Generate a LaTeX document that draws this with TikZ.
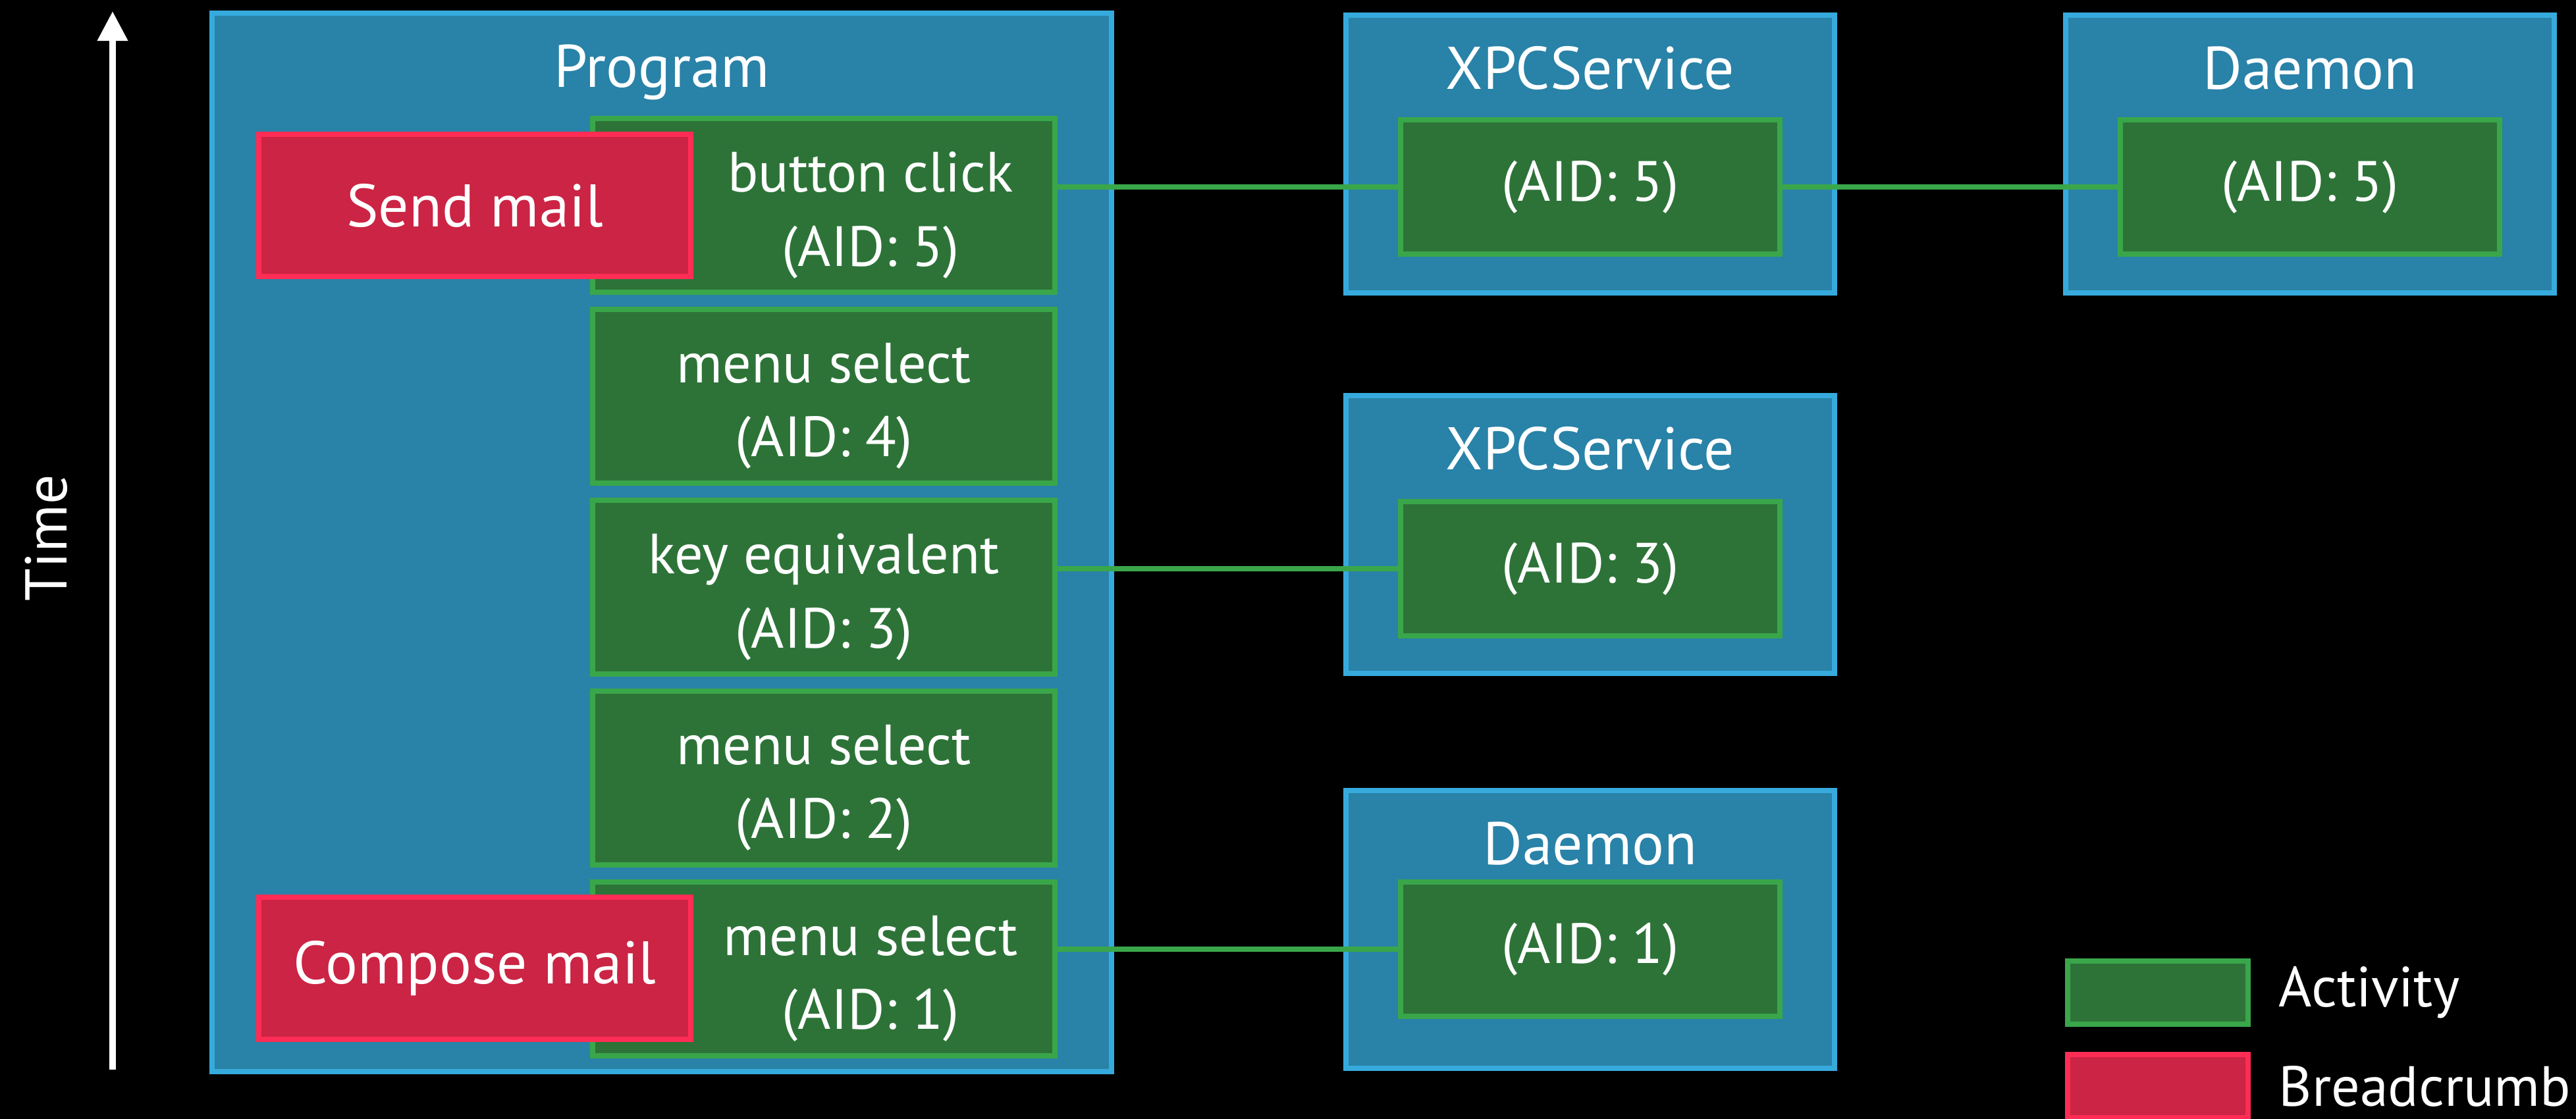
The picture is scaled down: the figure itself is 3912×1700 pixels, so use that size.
\documentclass[tikz,border=0pt]{standalone}
\usepackage{fontspec}
\setmainfont{PT Sans}
\usetikzlibrary{positioning, arrows.meta}

\definecolor{procfill}{HTML}{2982A7}
\definecolor{procline}{HTML}{36AADD}
\definecolor{actfill}{HTML}{2D7338}
\definecolor{actline}{HTML}{3AA64A}
\definecolor{crumbfill}{HTML}{CB2444}
\definecolor{crumbline}{HTML}{FF2D55}

\begin{document}
\begin{tikzpicture}[x=0.01cm, y=-0.01cm, >=Stealth,
    procbox/.style={draw=procline, fill=procfill, line width=0.08cm, inner sep=0pt,
        minimum width=7.42cm, minimum height=4.22cm},
    actbox/.style={draw=actline, fill=actfill, line width=0.08cm, text=white, align=center,
        minimum width=7.02cm, minimum height=2.64cm, font=\fontsize{24.5}{32}\selectfont},
    acttext/.style={text=white, align=center, yshift=-0.15cm, font=\fontsize{24.5}{32}\selectfont},
    remotebox/.style={actbox, minimum width=5.75cm, minimum height=2.04cm},
    crumbbox/.style={draw=crumbline, fill=crumbfill, line width=0.08cm, text=white,
        minimum width=6.55cm, minimum height=2.16cm, font=\fontsize{26}{32}\selectfont},
    titletxt/.style={text=white, inner sep=0pt, anchor=base, font=\fontsize{26}{32}\selectfont},
    lbl/.style={text=white, inner sep=0pt, font=\fontsize{24.5}{32}\selectfont},
    link/.style={draw=actline, line width=0.08cm}]

    % canvas
    \useasboundingbox (0,0) rectangle (3912,1700);
    \fill[black] (0,0) rectangle (3912,1700);

    % time axis
    \coordinate (tbot) at (171,1625);
    \coordinate (ttop) at (171,17);
    \draw[white, line width=0.1cm, -{Triangle[width=0.44cm,length=0.45cm]}] (tbot) -- (ttop);
    \node[lbl, rotate=90, font=\fontsize{25.5}{32}\selectfont] (timelbl) at (70,817) {Time};

    % program with its activities
    \node[procbox, minimum width=13.66cm, minimum height=16.08cm] (prog) at (1005,824) {};
    \node[titletxt] (progtitle) at ([yshift=-1.17cm]prog.north) {Program};

    \node[actbox, label={[acttext, xshift=0.71cm]center:{button click\\(AID: 5)}}] (a5) at (1251,312) {};
    \node[actbox, label={[acttext]center:{menu select\\(AID: 4)}}] (a4) at (1251,602) {};
    \node[actbox, label={[acttext]center:{key equivalent\\(AID: 3)}}] (a3) at (1251,892) {};
    \node[actbox, label={[acttext]center:{menu select\\(AID: 2)}}] (a2) at (1251,1182) {};
    \node[actbox, label={[acttext, xshift=0.71cm]center:{menu select\\(AID: 1)}}] (a1) at (1251,1472) {};

    % breadcrumbs
    \node[crumbbox] (sendmail) at (721,312) {Send mail};
    \node[crumbbox] (composemail) at (721,1471) {Compose mail};

    % other processes
    \node[procbox] (xpcA) at (2415,234) {};
    \node[titletxt] (xpcAtitle) at ([yshift=-1.17cm]xpcA.north) {XPCService};
    \node[remotebox] (xpcA5) at (2415,284) {(AID: 5)};

    \node[procbox] (daemonA) at (3508,234) {};
    \node[titletxt] (daemonAtitle) at ([yshift=-1.17cm]daemonA.north) {Daemon};
    \node[remotebox] (daemonA5) at (3508,284) {(AID: 5)};

    \node[procbox] (xpcB) at (2415,812) {};
    \node[titletxt] (xpcBtitle) at ([yshift=-1.17cm]xpcB.north) {XPCService};
    \node[remotebox] (xpcB3) at (2415,864) {(AID: 3)};

    \node[procbox] (daemonB) at (2415,1412) {};
    \node[titletxt] (daemonBtitle) at ([yshift=-1.17cm]daemonB.north) {Daemon};
    \node[remotebox] (daemonB1) at (2415,1442) {(AID: 1)};

    % links
    \draw[link] (a5.east |- xpcA5.west) -- (xpcA5.west);
    \draw[link] (xpcA5.east) -- (daemonA5.west);
    \draw[link] (a3.east |- xpcB3.west) -- (xpcB3.west);
    \draw[link] (a1.east |- daemonB1.west) -- (daemonB1.west);

    % legend
    \node[actbox, minimum width=2.74cm, minimum height=0.96cm] (legact) at (3277,1508) {};
    \node[lbl, right=0.42cm of legact] (legacttxt) {Activity};
    \node[crumbbox, minimum width=2.74cm, minimum height=0.96cm] (legcrumb) at (3277,1650) {};
    \node[lbl, right=0.42cm of legcrumb] (legcrumbtxt) {Breadcrumb};
\end{tikzpicture}
\end{document}
